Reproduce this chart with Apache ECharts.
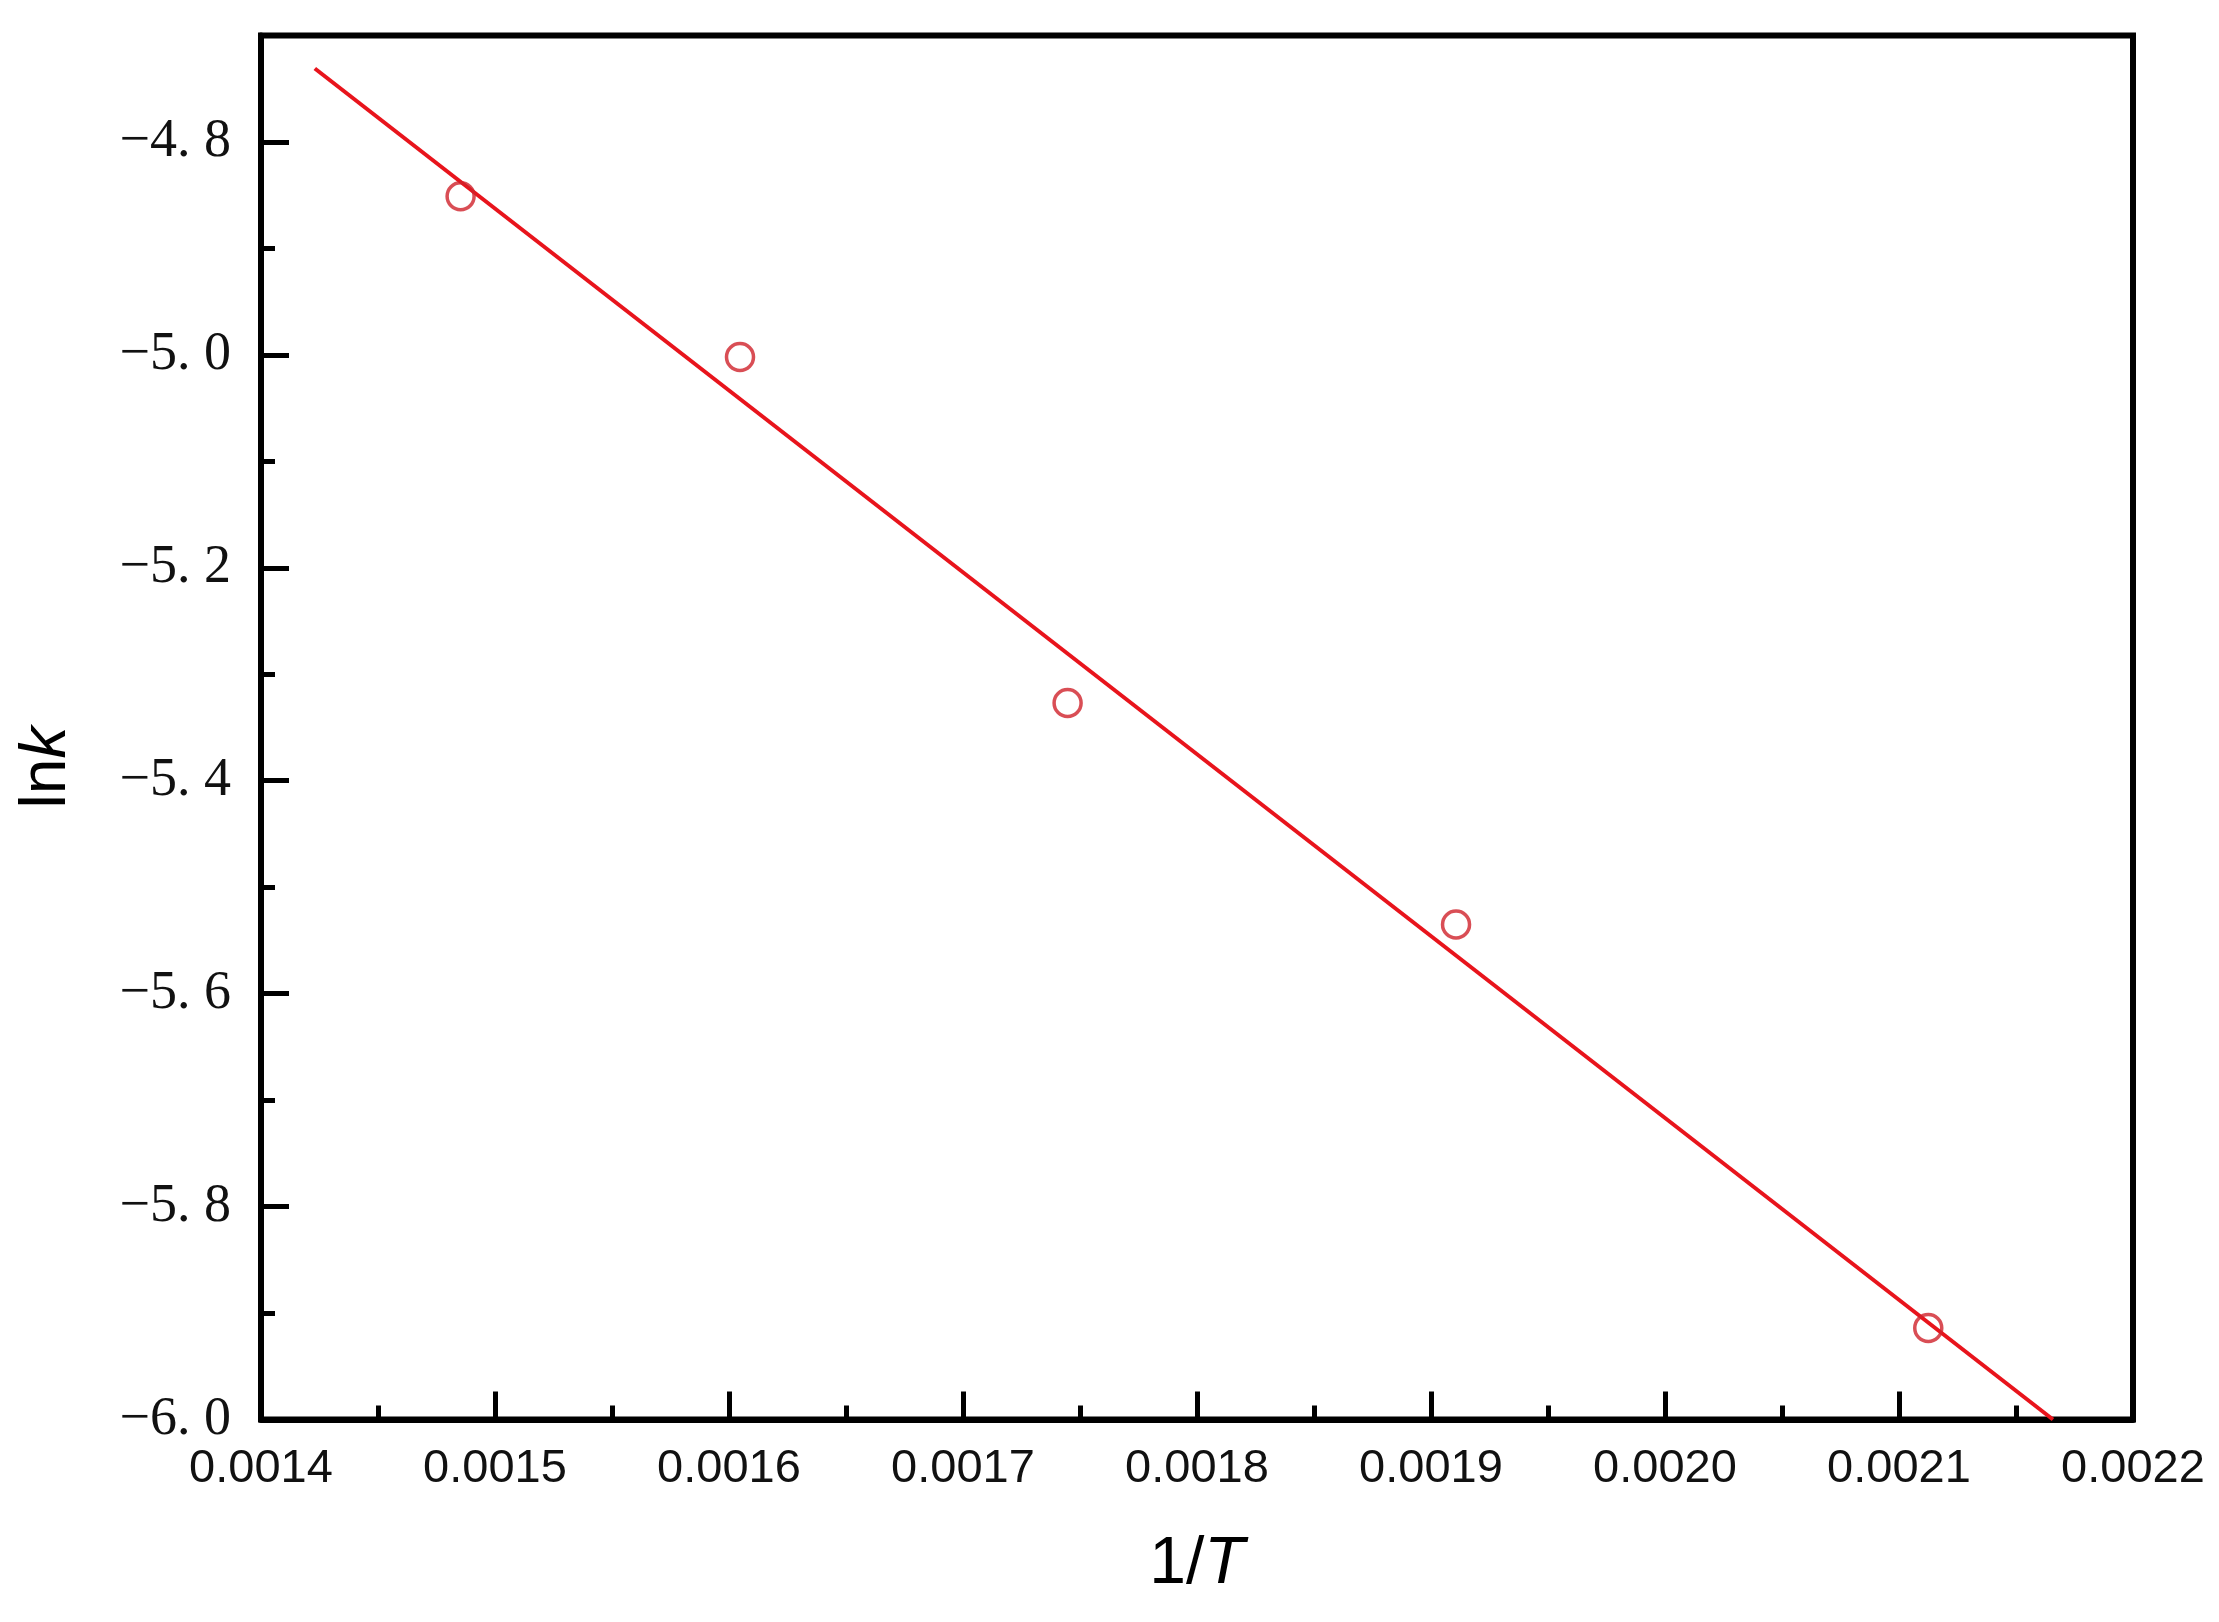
<!DOCTYPE html>
<html>
<head>
<meta charset="utf-8">
<script src="https://cdn.jsdelivr.net/npm/echarts@6/dist/echarts.min.js"></script>
<style>
html,body{margin:0;padding:0;background:#fff;}
#chart{width:2219px;height:1622px;}
</style>
</head>
<body>
<div id="chart"></div>
<script>
// Data
const invT = [0.0014853, 0.0016047, 0.0017447, 0.0019107, 0.0021125];
const lnK = [-4.851, -5.002, -5.327, -5.535, -5.914];
// fitted straight line (end points as drawn)
const fitX = [0.001423, 0.0021658];
const fitY = [-4.731, -6.0];
// axis settings
const xMin = 0.0014, xMax = 0.0022, xStep = 0.0001;
const yMin = -6.0, yMax = -4.7, yStep = 0.2, yMinorStep = 0.1;

const chart = echarts.init(document.getElementById('chart'), null, {renderer: 'canvas'});

const scatterData = invT.map((x, i) => [x, lnK[i]]);
const lineData = fitX.map((x, i) => [x, fitY[i]]);

const option = {
  backgroundColor: '#fff',
  animation: false,
  grid: {
    left: 261, top: 35.5, right: 86, bottom: 202.5,
    show: true, borderColor: '#000', borderWidth: 6, backgroundColor: 'transparent'
  },
  xAxis: {
    type: 'value', min: xMin, max: xMax, interval: xStep,
    position: 'bottom',
    name: '{a|1/}{b|T}', nameLocation: 'middle', nameGap: 112,
    nameTextStyle: {
      rich: {
        a: {fontFamily: 'Liberation Sans', fontSize: 66, color: '#000'},
        b: {fontFamily: 'Liberation Sans', fontSize: 66, fontStyle: 'italic', color: '#000'}
      }
    },
    axisLine: {show: true, lineStyle: {color: '#000', width: 6}},
    axisTick: {show: true, inside: true, length: 28, lineStyle: {color: '#000', width: 5}},
    minorTick: {show: true, splitNumber: 2, length: 14, lineStyle: {color: '#000', width: 5}},
    splitLine: {show: false},
    axisLabel: {
      margin: 26, fontFamily: 'Liberation Sans', fontSize: 47, color: '#111',
      formatter: v => v.toFixed(4)
    }
  },
  yAxis: [{
    type: 'value', min: yMin, max: yMax, interval: yStep,
    position: 'left',
    name: '{a|ln}{b|k}', nameLocation: 'middle', nameGap: 182, nameRotate: 90,
    nameTextStyle: {
      padding: [0, 80, 0, 0],
      rich: {
        a: {fontFamily: 'Liberation Sans', fontSize: 64, color: '#000'},
        b: {fontFamily: 'Liberation Sans', fontSize: 64, fontStyle: 'italic', color: '#000'}
      }
    },
    axisLine: {show: true, lineStyle: {color: '#000', width: 6}},
    axisTick: {show: true, inside: true, length: 28, lineStyle: {color: '#000', width: 5}},
    splitLine: {show: false},
    axisLabel: {
      margin: 30, fontFamily: 'Liberation Serif', fontSize: 54, color: '#111',
      showMaxLabel: false,
      formatter: v => {
        if (Math.abs(v - yMax) < 1e-9) return '';
        const s = Math.abs(v).toFixed(1).replace('.', '. ');
        return (v < 0 ? '\u2212' : '') + s;
      }
    }
  }, {
    type: 'value', min: yMin, max: yMax, interval: yMinorStep,
    position: 'left',
    axisLine: {show: false},
    axisTick: {show: true, inside: true, length: 14, lineStyle: {color: '#000', width: 5}},
    splitLine: {show: false},
    axisLabel: {show: false}
  }],
  series: [{
    type: 'line',
    data: lineData,
    yAxisIndex: 0,
    showSymbol: false,
    symbol: 'none',
    lineStyle: {color: '#e8141c', width: 4},
    clip: true,
    z: 2
  }, {
    type: 'scatter',
    data: scatterData,
    yAxisIndex: 0,
    symbol: 'circle',
    symbolSize: 27,
    itemStyle: {color: 'rgba(255,255,255,0)', borderColor: '#d0222a', borderWidth: 3.5},
    z: 3
  }]
};
chart.setOption(option);
</script>
</body>
</html>
